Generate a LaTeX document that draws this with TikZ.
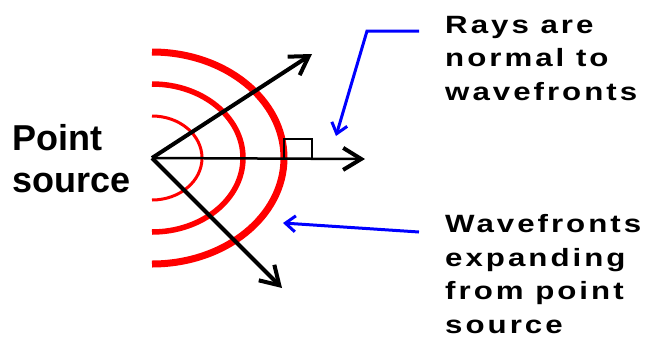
\documentclass[tikz,border=0pt]{standalone}
\usepackage{fontspec}
\setmainfont{Liberation Sans}
\newfontfamily\widefont[LetterSpace=12, FakeStretch=1.25]{Liberation Sans}
\usetikzlibrary{arrows.meta, positioning, calc}
\tikzset{%
   front/.style={red, line cap=butt},
   ray/.style={
      line width=4pt,
      -{Straight Barb[length=18pt, width=22pt, line width=4pt]}
   },
   pointer/.style={
      blue, line width=3pt,
      -{Straight Barb[length=10pt, width=16pt, line width=3pt]}
   },
   note/.style={
      anchor=base west, align=left, inner sep=0pt,
      font=\widefont\bfseries\fontsize{25}{33.5}\selectfont
   },
}

\begin{document}
\begin{tikzpicture}[x=1pt, y=-1pt]
   \useasboundingbox (0,0) rectangle (648,338);
   \coordinate (S) at (152,158);
   % wavefronts
   \draw[front, line width=3pt] ($(S)+(0,42)$) arc[start angle=90, end angle=-90, x radius=50, y radius=42];
   \draw[front, line width=5.5pt] ($(S)+(0,74)$) arc[start angle=90, end angle=-90, x radius=91, y radius=74];
   \draw[front, line width=7pt] ($(S)+(0,106)$) arc[start angle=90, end angle=-90, x radius=132, y radius=106];
   % rays
   \coordinate (up) at (312,54);
   \coordinate (mid) at (365,159);
   \coordinate (low) at (282,288);
   \draw[ray] (S) -- (up);
   \draw[ray, line width=2.5pt] (S) -- (mid);
   \draw[ray] (S) -- (low);
   \draw[line width=1.5pt] (284,159) |- (312,139) -- (312,159);
   % labels
   \node[anchor=base west, inner sep=0pt, font=\bfseries\fontsize{36}{42}\selectfont,
         align=left] (src) at (12,192) {Point\\source};
   \node[note] (rays) at (445,100) {Rays are\\normal to\\wavefronts};
   \node[note] (wave) at (445,333) {Wavefronts\\expanding\\from point\\source};
   \coordinate (r1) at (419,31);
   \coordinate (r2) at (367,31);
   \coordinate (r3) at (336,136);
   \draw[pointer] (r1) -- (r2) -- (r3);
   \coordinate (w1) at (419,232);
   \coordinate (w2) at (283,223);
   \draw[pointer] (w1) -- (w2);
\end{tikzpicture}
\end{document}
